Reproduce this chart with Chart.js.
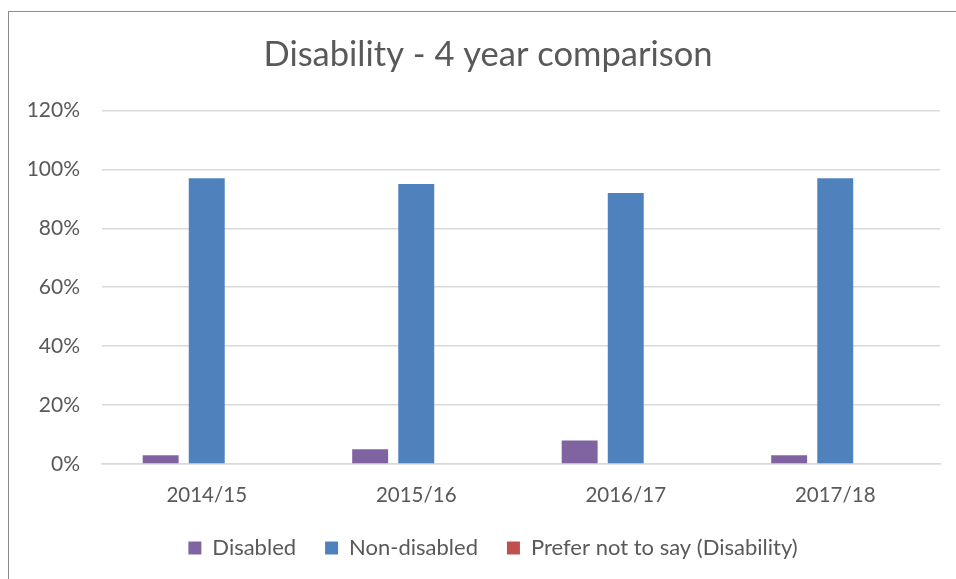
<!DOCTYPE html>
<html>
<head>
<meta charset="utf-8">
<script src="https://cdn.jsdelivr.net/npm/chart.js@4"></script>
<style>
  html, body { margin: 0; padding: 0; background: #fff; }
  #wrap { position: relative; width: 956px; height: 579px; overflow: hidden; }
  #frame { position: absolute; left: 8px; top: 11px; width: 1000px; height: 700px; border: 1px solid #8c8c8c; box-sizing: border-box; }
  canvas { position: absolute; left: 0; top: 0; }
</style>
</head>
<body>
<div id="wrap">
  <div id="frame"></div>
  <canvas id="chart" width="956" height="579"></canvas>
</div>
<script>
// --- data ---
const years = ['2014/15', '2015/16', '2016/17', '2017/18'];
const disabled = [3, 5, 8, 3];
const nonDisabled = [97, 95, 92, 97];
const preferNot = [0, 0, 0, 0];
const yTicks = [0, 20, 40, 60, 80, 100, 120];

const textColor = '#595959';
const font = 'Lato, "Open Sans", sans-serif';

// the frame runs off the right edge, so title and legend sit a little right of centre
const nudgeBlocks = {
  id: 'nudgeBlocks',
  afterLayout(chart) {
    if (chart.titleBlock) { chart.titleBlock.left += 8; chart.titleBlock.right += 8; }
    if (chart.legend) { chart.legend.left += 13; chart.legend.right += 13; }
  }
};

new Chart(document.getElementById('chart'), {
  type: 'bar',
  data: {
    labels: years,
    datasets: [
      { label: 'Disabled', data: disabled, backgroundColor: '#8064A2' },
      { label: 'Non-disabled', data: nonDisabled, backgroundColor: '#4F81BD' },
      { label: 'Prefer not to say (Disability)', data: preferNot, backgroundColor: '#C0504D' }
    ]
  },
  options: {
    responsive: false,
    animation: false,
    layout: { padding: { left: 20, right: 16, top: 0, bottom: 10 } },
    datasets: { bar: { categoryPercentage: 0.66, barPercentage: 0.78 } },
    scales: {
      x: {
        afterFit: (s) => { s.height = 44; },
        grid: { display: false },
        border: { color: '#d9d9d9', width: 1.5 },
        ticks: { color: textColor, font: { family: font, size: 20.5, lineHeight: 1 }, padding: 13 },
      },
      y: {
        min: 0, max: 120,
        afterBuildTicks: (s) => { s.ticks = yTicks.map(v => ({ value: v })); },
        afterFit: (s) => { s.width = 82; },
        grid: { color: '#d9d9d9', lineWidth: 1.5, drawTicks: false },
        border: { display: false },
        ticks: { color: textColor, font: { family: font, size: 21 }, padding: 22, callback: v => v + '%' }
      }
    },
    plugins: {
      title: {
        display: true,
        text: 'Disability - 4 year comparison',
        color: textColor,
        font: { family: font, size: 34.5, weight: 'normal' },
        padding: { top: 34, bottom: 35 }
      },
      legend: {
        position: 'bottom',
        labels: { color: textColor, font: { family: font, size: 22 }, boxWidth: 13, boxHeight: 13, padding: 29 }
      },
      tooltip: { enabled: false }
    }
  },
  plugins: [nudgeBlocks]
});
</script>
</body>
</html>
